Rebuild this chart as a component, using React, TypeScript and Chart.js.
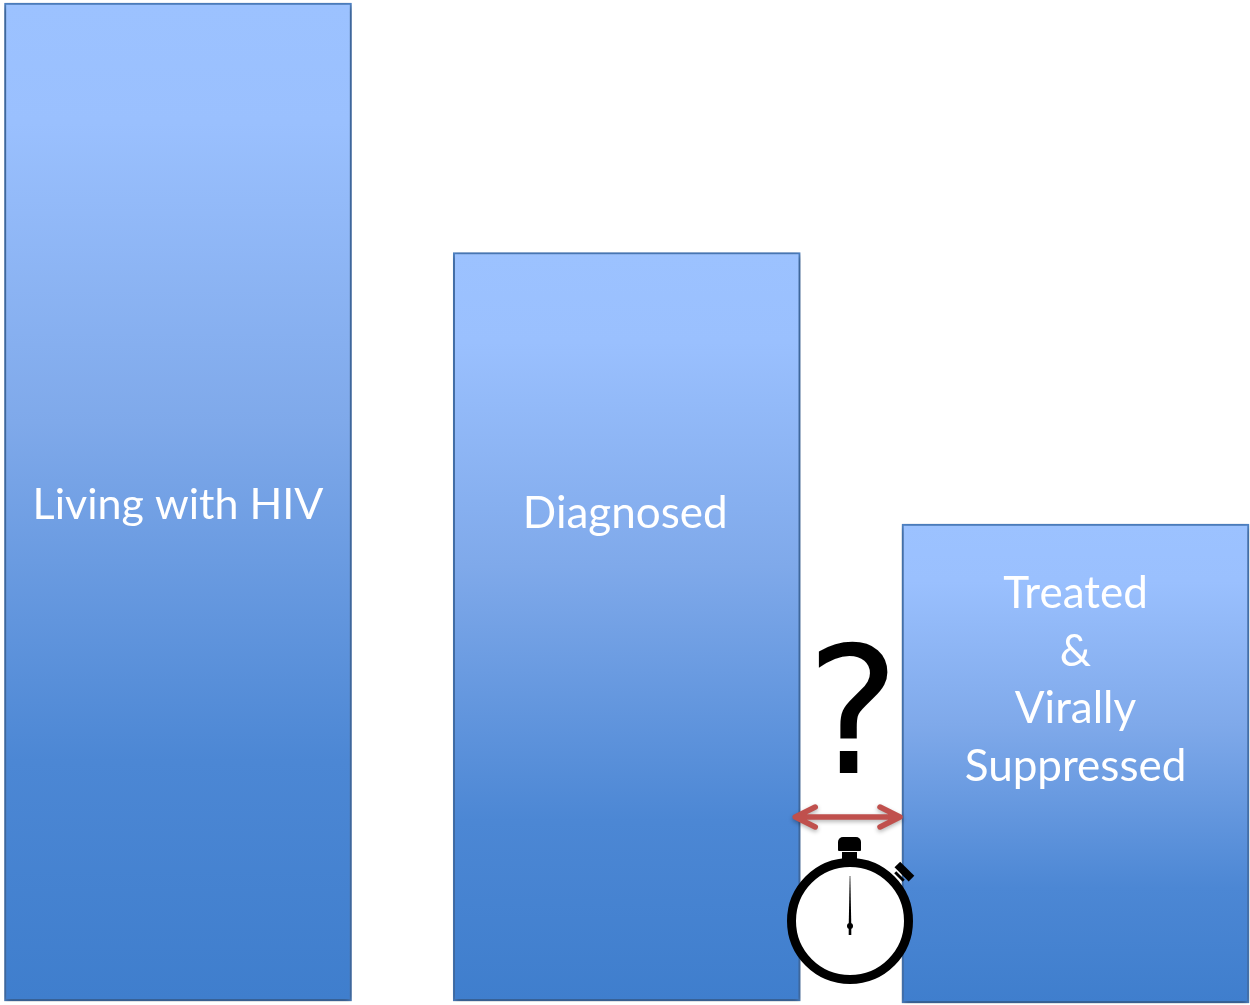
import React, { useEffect, useRef } from "react";
import { Chart, registerables } from "chart.js";

Chart.register(...registerables);

// Care cascade stages, as a percentage of everyone living with HIV
const stages = ["Living with HIV", "Diagnosed", "Treated & Virally Suppressed"];
const stageValues = [100, 75, 47.8];
const stageBases = [0, 0, -0.2];
const stageLabelLines = [["Living with HIV"], ["Diagnosed"], ["Treated", "&", "Virally", "Suppressed"]];
const stageLabelCenters = [505, 514, 680.5];

const LINE_HEIGHT = 57.5;
const ARROW_RED = "#C0504D";

// White captions centred on each bar
const captionPlugin = {
  id: "captions",
  afterDatasetsDraw(chart: any) {
    const { ctx } = chart;
    const bars = chart.getDatasetMeta(0).data;
    ctx.save();
    ctx.fillStyle = "#ffffff";
    ctx.textAlign = "center";
    ctx.textBaseline = "middle";
    stageLabelLines.forEach((lines, i) => {
      ctx.font = `${i === 0 ? 43 : 44}px Lato, "Open Sans", sans-serif`;
      const start = stageLabelCenters[i] - ((lines.length - 1) * LINE_HEIGHT) / 2;
      lines.forEach((line, j) => ctx.fillText(line, bars[i].x - (i === 1 ? 1.5 : 0), start + j * LINE_HEIGHT));
    });
    ctx.restore();
  },
};

// Question mark, double arrow and stopwatch in the gap between the last two bars
const gapPlugin = {
  id: "gapNotes",
  afterDatasetsDraw(chart: any) {
    const { ctx } = chart;
    const bars = chart.getDatasetMeta(0).data;
    const left = bars[1].x + bars[1].width / 2 - 7;
    const right = bars[2].x - bars[2].width / 2;
    const cx = 850;

    ctx.save();
    ctx.fillStyle = "#000000";
    ctx.font = '176px "DejaVu Sans", sans-serif';
    ctx.textAlign = "center";
    ctx.textBaseline = "alphabetic";
    ctx.fillText("?", cx + 3, 773);
    ctx.restore();

    // Double-headed arrow
    ctx.save();
    ctx.strokeStyle = ARROW_RED;
    ctx.lineWidth = 5.5;
    ctx.lineCap = "round";
    ctx.lineJoin = "round";
    ctx.shadowColor = "rgba(0,0,0,0.3)";
    ctx.shadowBlur = 4;
    ctx.shadowOffsetY = 2;
    const y = 817;
    ctx.beginPath();
    ctx.moveTo(left + 2, y);
    ctx.lineTo(right - 2, y);
    ctx.moveTo(left + 22, y - 10);
    ctx.lineTo(left + 2, y);
    ctx.lineTo(left + 22, y + 10);
    ctx.moveTo(right - 22, y - 10);
    ctx.lineTo(right - 2, y);
    ctx.lineTo(right - 22, y + 10);
    ctx.stroke();
    ctx.restore();

    // Stopwatch
    const cy = 921;
    ctx.save();
    ctx.fillStyle = "#000000";
    ctx.beginPath();
    ctx.roundRect(cx - 12, 837, 23, 14, [5, 5, 1, 1]);
    ctx.fill();
    ctx.fillRect(cx - 8, 852, 15, 7);

    ctx.save();
    ctx.translate(903, 873);
    ctx.rotate(Math.PI / 4);
    ctx.fillRect(-10, -6, 20, 8);
    ctx.fillRect(-6, 3.5, 12, 3);
    ctx.restore();

    ctx.beginPath();
    ctx.arc(cx, cy, 58.5, 0, Math.PI * 2);
    ctx.fillStyle = "#ffffff";
    ctx.fill();
    ctx.lineWidth = 9;
    ctx.strokeStyle = "#000000";
    ctx.stroke();

    ctx.fillStyle = "#000000";
    ctx.beginPath();
    ctx.moveTo(cx - 0.3, 876);
    ctx.lineTo(cx + 0.3, 876);
    ctx.lineTo(cx + 1.3, 926);
    ctx.lineTo(cx + 1.3, 935);
    ctx.lineTo(cx - 1.3, 935);
    ctx.lineTo(cx - 1.3, 926);
    ctx.closePath();
    ctx.fill();
    ctx.beginPath();
    ctx.arc(cx, 926, 3, 0, Math.PI * 2);
    ctx.fill();
    ctx.restore();
  },
};

// Soft drop shadow behind the bars
const barShadowPlugin = {
  id: "barShadow",
  beforeDatasetsDraw(chart: any) {
    const { ctx } = chart;
    ctx.save();
    ctx.shadowColor = "rgba(0,0,0,0.5)";
    ctx.shadowBlur = 6;
    ctx.shadowOffsetY = 2;
  },
  afterDatasetsDraw(chart: any) {
    chart.ctx.restore();
  },
};

function barGradient(context: any) {
  const { chart, raw } = context;
  const yScale = chart.scales.y;
  if (!yScale || !raw) return "#6f9fe0";
  const top = yScale.getPixelForValue(raw[1]);
  const bottom = yScale.getPixelForValue(raw[0]);
  if (!Number.isFinite(top) || !Number.isFinite(bottom)) return "#6f9fe0";
  const g = chart.ctx.createLinearGradient(0, top, 0, bottom);
  g.addColorStop(0, "#9CC2FF");
  g.addColorStop(0.12, "#9AC0FE");
  g.addColorStop(0.42, "#7FA9EA");
  g.addColorStop(0.76, "#4C87D4");
  g.addColorStop(1, "#3F7ECD");
  return g;
}

export default function App() {
  const ref = useRef<HTMLCanvasElement>(null);

  useEffect(() => {
    const chart = new Chart(ref.current as HTMLCanvasElement, {
      type: "bar",
      data: {
        labels: stages,
        datasets: [
          {
            data: stageValues.map((v, i) => [stageBases[i], v]) as any,
            backgroundColor: barGradient as any,
            borderColor: "#4F84C8",
            borderWidth: 2,
            borderSkipped: false,
            barThickness: 347,
            clip: false as any,
          },
        ],
      },
      options: {
        responsive: false,
        animation: false,
        layout: { padding: { left: 178, right: 174.5, top: 0, bottom: 0 } },
        plugins: { legend: { display: false }, tooltip: { enabled: false } },
        scales: {
          x: { display: false, offset: false, grid: { display: false } },
          y: { display: false, min: -0.4, max: 100.3, grid: { display: false } },
        },
      },
      plugins: [barShadowPlugin, captionPlugin, gapPlugin],
    });
    return () => chart.destroy();
  }, []);

  return (
    <div style={{ position: "absolute", left: 0, top: 0, width: 1250, height: 1005, background: "#ffffff" }}>
      <canvas ref={ref} width={1250} height={1005} style={{ display: "block" }} />
    </div>
  );
}
